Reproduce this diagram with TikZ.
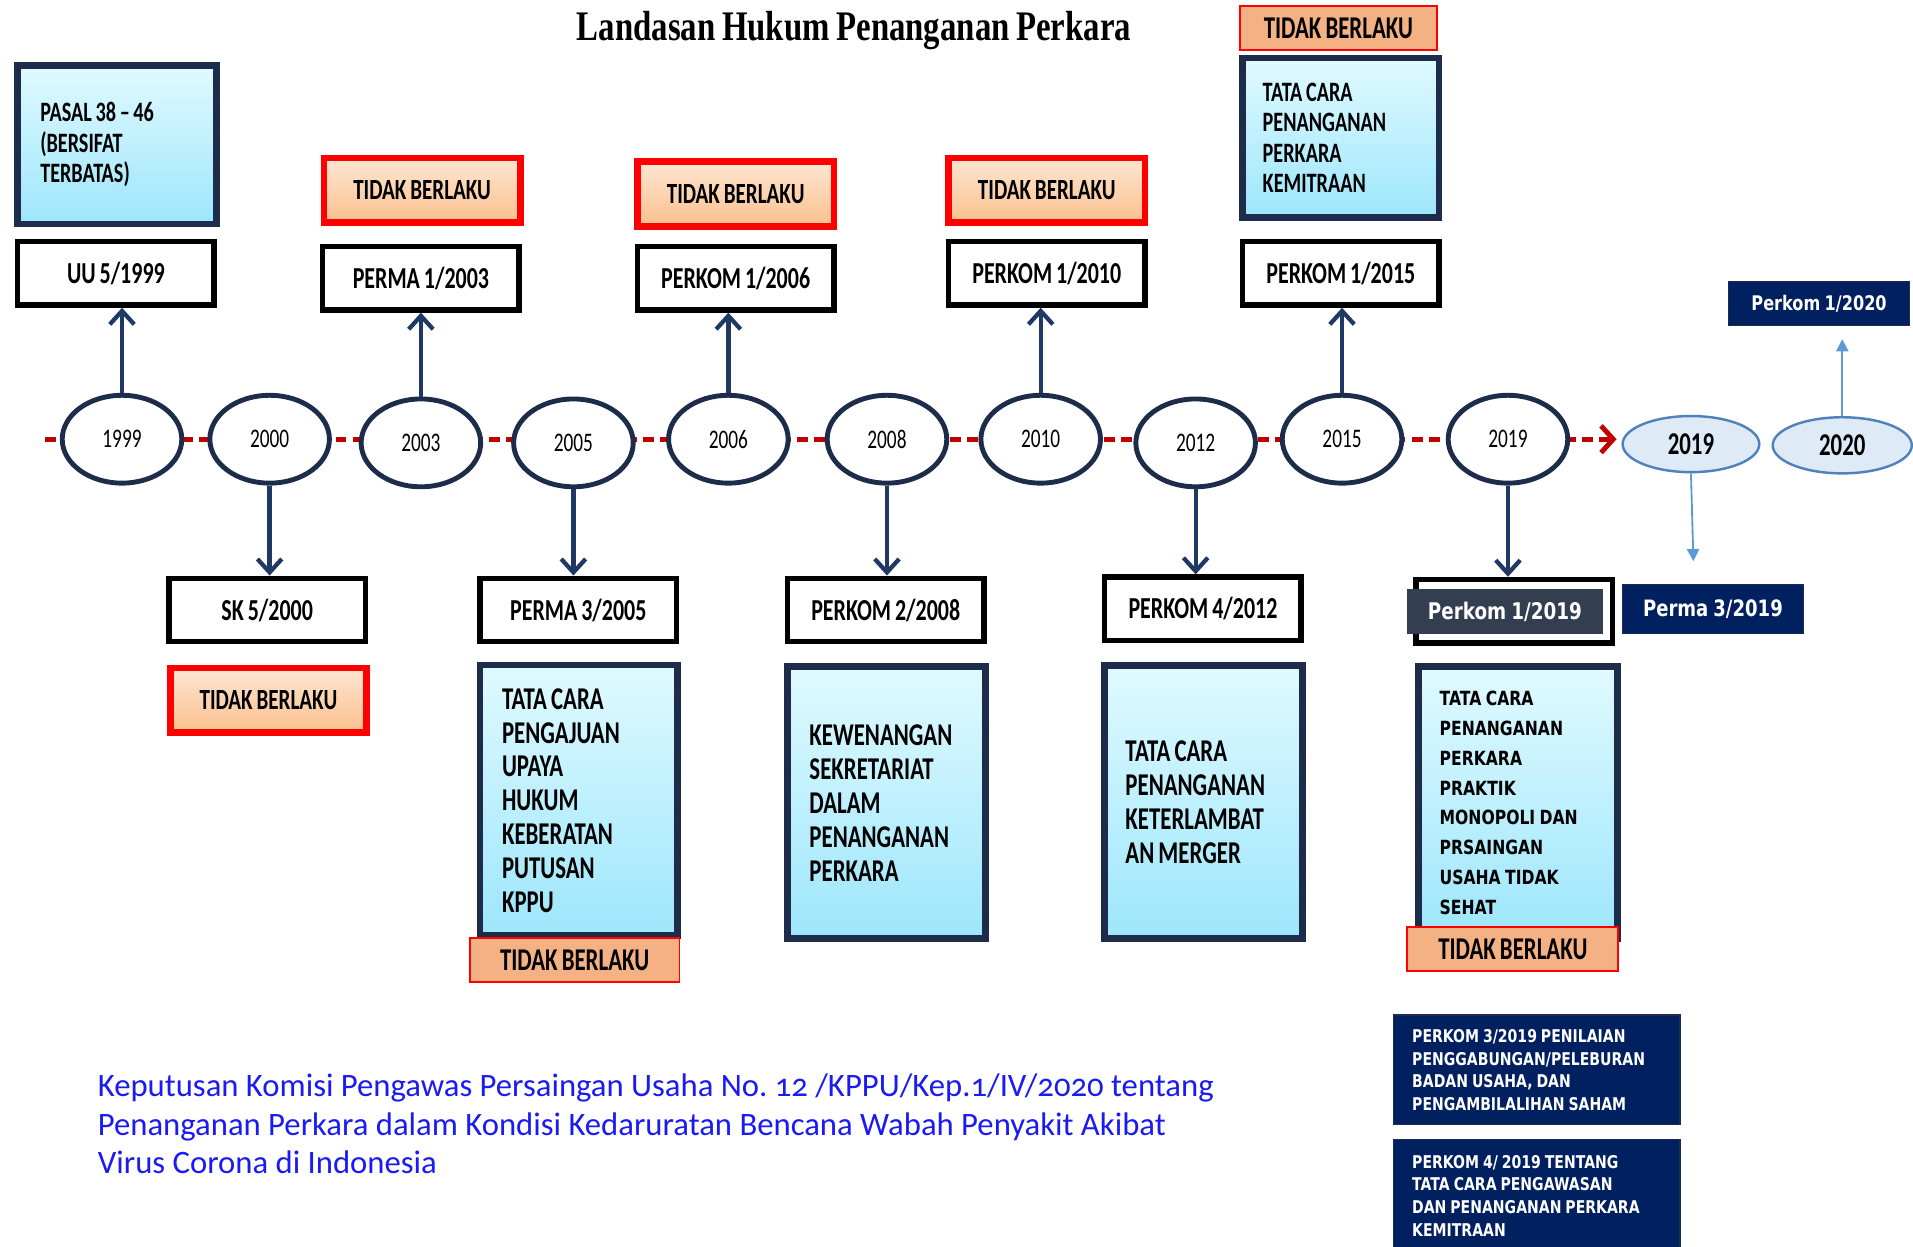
\documentclass[tikz,border=0pt]{standalone}
\usepackage{fontspec}
\setmainfont{Carlito}[FakeStretch=0.72,WordSpace=0.8]
\newfontfamily\titlefnt{Liberation Serif}[FakeStretch=0.78,WordSpace=0.8]
\newfontfamily\verdfnt{DejaVu Sans}[FakeStretch=0.8,WordSpace=0.8]
\newfontfamily\notefnt{Carlito}[Numbers=OldStyle]
\usetikzlibrary{shapes.geometric,arrows.meta}

\definecolor{navy}{HTML}{1D2C4A}
\definecolor{arrownavy}{HTML}{1F3864}
\definecolor{darkred}{HTML}{C00000}
\definecolor{peachtop}{HTML}{FDE6D2}
\definecolor{peachbot}{HTML}{FBC08D}
\definecolor{peach}{HTML}{F4B183}
\definecolor{skytop}{HTML}{E0FAFF}
\definecolor{skybot}{HTML}{9DE6FB}
\definecolor{darkblue}{HTML}{002060}
\definecolor{slate}{HTML}{333F50}
\definecolor{paleblue}{HTML}{DEEBF7}
\definecolor{midblue}{HTML}{4F81BD}
\definecolor{lightarrow}{HTML}{5B9BD5}
\definecolor{notebl}{HTML}{1A1AF5}

\tikzset{
  naturalspace/.style={execute at begin node={\spaceskip=0pt\xspaceskip=0pt\relax}},
  yearnode/.style={ellipse, draw=navy, line width=4pt, fill=white,
    minimum width=98pt, minimum height=72pt, inner sep=0pt,
    font=\fontsize{22}{24}\selectfont},
  newyear/.style={ellipse, draw=midblue, line width=2pt, fill=paleblue,
    minimum width=112pt, minimum height=46pt, inner sep=0pt,
    font=\bfseries\fontsize{26}{28}\selectfont},
  lawbox/.style={draw=black, line width=4.5pt, fill=white,
    minimum width=161pt, minimum height=52pt, inner sep=0pt,
    font=\bfseries\fontsize{25}{28}\selectfont},
  offbox/.style={draw=red, line width=5.5pt, top color=peachtop, bottom color=peachbot,
    minimum width=161pt, minimum height=53pt, inner sep=0pt,
    font=\bfseries\fontsize{24}{26}\selectfont},
  offflat/.style={draw=red, line width=1.5pt, fill=peach,
    minimum height=36pt, inner sep=0pt,
    font=\bfseries\fontsize{26}{28}\selectfont},
  descbox/.style={draw=navy, line width=5.5pt, top color=skytop, bottom color=skybot,
    inner xsep=0pt, inner ysep=0pt, align=left, naturalspace},
  navybox/.style={draw=navy, line width=1pt, fill=darkblue, text=white, inner sep=0pt,
    naturalspace},
  linkarrow/.style={draw=arrownavy, line width=3.5pt,
    -{Straight Barb[length=11pt,width=20pt]}},
  newarrow/.style={draw=lightarrow, line width=1.5pt,
    -{Triangle[length=10pt,width=10pt]}},
  timeline/.style={draw=darkred, line width=4pt, dash pattern=on 9pt off 5pt,
    -{Straight Barb[length=10pt,width=22pt]}}
}

\begin{document}
\begin{tikzpicture}[x=1pt, y=-1pt]
\useasboundingbox (0,0) rectangle (1568,1022);

% timeline
\coordinate (tstart) at (37,360);
\coordinate (tend) at (1325,360);
\draw[timeline] (tstart) -- (tend);

\node[font=\titlefnt\bfseries\fontsize{34.5}{36}\selectfont] (title) at (700,25) {Landasan Hukum Penanganan Perkara};

% years
\node[yearnode] (y1999) at (100,360) {1999};
\node[yearnode] (y2000) at (221,360) {2000};
\node[yearnode] (y2003) at (345,363) {2003};
\node[yearnode] (y2005) at (470,363) {2005};
\node[yearnode] (y2006) at (597,360) {2006};
\node[yearnode] (y2008) at (727,360) {2008};
\node[yearnode] (y2010) at (853,360) {2010};
\node[yearnode] (y2012) at (980,363) {2012};
\node[yearnode] (y2015) at (1100,360) {2015};
\node[yearnode] (y2019) at (1236,360) {2019};
\node[newyear] (n2019) at (1386,364) {2019};
\node[newyear, minimum width=114pt] (n2020) at (1510,365) {2020};

% upper row
\node[descbox, minimum width=163pt, minimum height=130pt, text width=126pt,
  font=\bfseries\fontsize{23}{25}\selectfont] (pasal) at (96,118.5)
  {PASAL 38 -- 46\\(BERSIFAT\\TERBATAS)};
\node[lawbox] (uu1999) at (95,224) {UU 5/1999};

\node[offbox] (off2003) at (346,156) {TIDAK BERLAKU};
\node[lawbox] (perma2003) at (345,228) {PERMA 1/2003};

\node[offbox] (off2006) at (603,159) {TIDAK BERLAKU};
\node[lawbox] (perkom2006) at (603,228) {PERKOM 1/2006};

\node[offbox] (off2010) at (858,156) {TIDAK BERLAKU};
\node[lawbox] (perkom2010) at (858,224) {PERKOM 1/2010};

\node[offflat, minimum width=161pt] (off2015) at (1097,23) {TIDAK BERLAKU};
\node[descbox, minimum width=161pt, minimum height=131pt, text width=128pt,
  font=\bfseries\fontsize{23}{24.8}\selectfont] (kemitraan) at (1099,113)
  {TATA CARA\\PENANGANAN\\PERKARA\\KEMITRAAN};
\node[lawbox] (perkom2015) at (1099,224) {PERKOM 1/2015};

\node[navybox, minimum width=148pt, minimum height=36pt,
  font=\verdfnt\bfseries\fontsize{16.5}{18}\selectfont] (perkom2020) at (1491,249) {Perkom 1/2020};

% lower row
\node[lawbox] (sk2000) at (219,500) {SK 5/2000};
\node[offbox] (off2000) at (220,574) {TIDAK BERLAKU};

\node[lawbox] (perma2005) at (474,500) {PERMA 3/2005};
\node[descbox, minimum width=162pt, minimum height=222pt, text width=126pt,
  font=\bfseries\fontsize{26}{27.7}\selectfont] (upaya) at (474.5,656)
  {TATA CARA\\PENGAJUAN\\UPAYA\\HUKUM\\KEBERATAN\\PUTUSAN\\KPPU};
\node[offflat, minimum width=172pt] (off2005) at (471,787) {TIDAK BERLAKU};

\node[lawbox] (perkom2008) at (726,500) {PERKOM 2/2008};
\node[descbox, minimum width=162pt, minimum height=223pt, text width=126pt,
  font=\bfseries\fontsize{26}{27.8}\selectfont] (sekretariat) at (726.5,658)
  {KEWENANGAN\\SEKRETARIAT\\DALAM\\PENANGANAN\\PERKARA};

\node[lawbox] (perkom2012) at (986,499) {PERKOM 4/2012};
\node[descbox, minimum width=162pt, minimum height=224pt, text width=128pt,
  font=\bfseries\fontsize{26}{27.8}\selectfont] (merger) at (986.5,657.5)
  {TATA CARA\\PENANGANAN\\KETERLAMBAT\\AN MERGER};

\node[lawbox] (perkom2019) at (1241,501) {};
\node[fill=slate, text=white, minimum width=161pt, minimum height=37pt, inner sep=0pt,
  font=\verdfnt\bfseries\fontsize{18.8}{20}\selectfont] (perkom2019txt) at (1233.5,501.5) {Perkom 1/2019};
\node[navybox, minimum width=148pt, minimum height=40pt,
  font=\verdfnt\bfseries\fontsize{18.5}{20}\selectfont] (perma2019) at (1404,499) {Perma 3/2019};
\node[descbox, minimum width=163pt, minimum height=223pt, text width=128pt,
  font=\verdfnt\bfseries\fontsize{16}{24.4}\selectfont] (monopoli) at (1244,658)
  {TATA CARA\\PENANGANAN\\PERKARA\\PRAKTIK\\MONOPOLI DAN\\PRSAINGAN\\USAHA TIDAK\\SEHAT};
\node[offflat, minimum width=173pt] (off2019) at (1240,778) {TIDAK BERLAKU};

\node[navybox, minimum width=235pt, minimum height=90pt, text width=204pt, align=left,
  font=\verdfnt\bfseries\fontsize{14.4}{18.5}\selectfont] (perkom3) at (1259.5,877)
  {PERKOM 3/2019 PENILAIAN\\PENGGABUNGAN/PELEBURAN\\BADAN USAHA, DAN\\PENGAMBILALIHAN SAHAM};
\node[navybox, minimum width=235pt, minimum height=92pt, text width=204pt, align=left,
  font=\verdfnt\bfseries\fontsize{14.4}{18.5}\selectfont] (perkom4) at (1259.5,980)
  {PERKOM 4/ 2019 TENTANG\\TATA CARA PENGAWASAN\\DAN PENANGANAN PERKARA\\KEMITRAAN};

\node[anchor=north west, align=left, inner sep=0pt, text=notebl, naturalspace,
  font=\notefnt\fontsize{26.8}{31.5}\selectfont] (note) at (80,880)
  {Keputusan Komisi Pengawas Persaingan Usaha No.\ 12 /KPPU/Kep.1/IV/2020 tentang\\
   Penanganan Perkara dalam Kondisi Kedaruratan Bencana Wabah Penyakit Akibat\\
   Virus Corona di Indonesia};

% connectors
\draw[linkarrow] (y1999.north) -- (y1999.north |- uu1999.south);
\draw[linkarrow] (y2003.north) -- (y2003.north |- perma2003.south);
\draw[linkarrow] (y2006.north) -- (y2006.north |- perkom2006.south);
\draw[linkarrow] (y2010.north) -- (y2010.north |- perkom2010.south);
\draw[linkarrow] (y2015.north) -- (y2015.north |- perkom2015.south);
\draw[linkarrow] (y2000.south) -- (y2000.south |- sk2000.north);
\draw[linkarrow] (y2005.south) -- (y2005.south |- perma2005.north);
\draw[linkarrow] (y2008.south) -- (y2008.south |- perkom2008.north);
\draw[linkarrow] (y2012.south) -- (y2012.south |- perkom2012.north);
\draw[linkarrow] (y2019.south) -- (y2019.south |- perkom2019.north);

\coordinate (n2019tip) at (1388,460);
\coordinate (n2020tip) at (1510,278);
\draw[newarrow] (n2019.south) -- (n2019tip);
\draw[newarrow] (n2020.north) -- (n2020tip);
\end{tikzpicture}
\end{document}
